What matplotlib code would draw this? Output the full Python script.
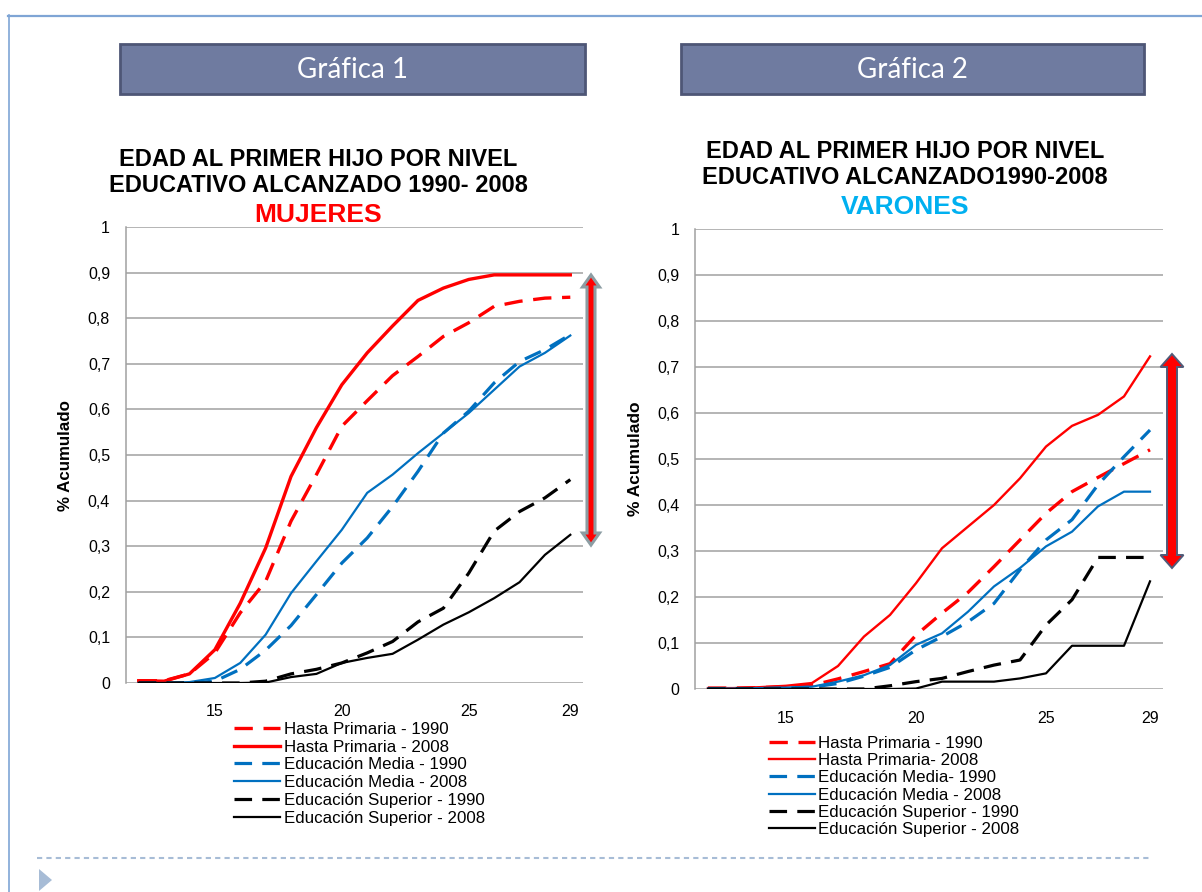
import matplotlib
matplotlib.use("Agg")
import matplotlib.pyplot as plt
import matplotlib.patches as mpatches
import matplotlib.lines as mlines
import numpy as np

W, H = 1202, 892

edades = list(range(12, 30))
xticks = [15, 20, 25, 29]

# Gráfica 1 - Mujeres
prim_1990_m = [0.005, 0.005, 0.02, 0.066, 0.154, 0.223, 0.355, 0.457, 0.563, 0.619, 0.674, 0.716, 0.76, 0.79, 0.826, 0.837, 0.844, 0.846]
prim_2008_m = [0.005, 0.004, 0.02, 0.073, 0.175, 0.296, 0.453, 0.56, 0.654, 0.724, 0.783, 0.839, 0.866, 0.885, 0.895, 0.895, 0.895, 0.895]
media_1990_m = [0, 0, 0, 0.004, 0.03, 0.072, 0.126, 0.194, 0.263, 0.318, 0.387, 0.464, 0.548, 0.596, 0.658, 0.705, 0.731, 0.764]
media_2008_m = [0, 0, 0.002, 0.011, 0.044, 0.106, 0.197, 0.267, 0.336, 0.417, 0.457, 0.504, 0.548, 0.592, 0.643, 0.694, 0.724, 0.762]
sup_1990_m = [0, 0, 0, 0, 0, 0.004, 0.02, 0.03, 0.044, 0.066, 0.091, 0.134, 0.164, 0.241, 0.333, 0.376, 0.406, 0.446]
sup_2008_m = [0, 0, 0, 0, 0, 0.001, 0.013, 0.02, 0.044, 0.055, 0.064, 0.095, 0.128, 0.155, 0.186, 0.221, 0.281, 0.325]

# Gráfica 2 - Varones
prim_1990_v = [0.002, 0.002, 0.003, 0.005, 0.008, 0.022, 0.038, 0.055, 0.117, 0.165, 0.21, 0.266, 0.324, 0.382, 0.429, 0.46, 0.49, 0.52]
prim_2008_v = [0.002, 0.002, 0.004, 0.007, 0.013, 0.05, 0.114, 0.161, 0.23, 0.306, 0.353, 0.40, 0.458, 0.527, 0.572, 0.596, 0.636, 0.723]
media_1990_v = [0.001, 0.001, 0.001, 0.002, 0.004, 0.012, 0.028, 0.047, 0.085, 0.114, 0.146, 0.186, 0.259, 0.324, 0.368, 0.444, 0.505, 0.563]
media_2008_v = [0.001, 0.001, 0.002, 0.003, 0.005, 0.016, 0.03, 0.052, 0.096, 0.121, 0.168, 0.223, 0.263, 0.31, 0.342, 0.397, 0.429, 0.429]
sup_1990_v = [0, 0, 0, 0, 0, 0, 0, 0.007, 0.016, 0.023, 0.038, 0.052, 0.063, 0.139, 0.194, 0.286, 0.286, 0.286]
sup_2008_v = [0, 0, 0, 0, 0, 0, 0, 0, 0.001, 0.016, 0.016, 0.016, 0.023, 0.034, 0.094, 0.094, 0.094, 0.234]

labels_m = ["Hasta Primaria - 1990", "Hasta Primaria - 2008", "Educación Media - 1990",
            "Educación Media - 2008", "Educación Superior - 1990", "Educación Superior - 2008"]
labels_v = ["Hasta Primaria - 1990", "Hasta Primaria- 2008", "Educación Media- 1990",
            "Educación Media - 2008", "Educación Superior - 1990", "Educación Superior - 2008"]

RED = "#FF0000"
BLUE = "#0070C0"
GRID = "#A0A0A0"

plt.rcParams["font.family"] = ["Liberation Sans", "DejaVu Sans"]


def fx(px):
    return px / W


def fy(py):
    return 1 - py / H


def ytick_fmt(v, pos):
    if abs(v) < 1e-9:
        return "0"
    if abs(v - 1) < 1e-9:
        return "1"
    return f"{v:.1f}".replace(".", ",")


def setup_axes(ax, xpad, ypad):
    ax.set_xlim(11.5, 29.5)
    ax.set_ylim(0, 1)
    ax.set_yticks(np.arange(0, 1.01, 0.1))
    ax.yaxis.set_major_formatter(plt.FuncFormatter(ytick_fmt))
    ax.set_xticks(xticks)
    ax.set_xticklabels([str(t) for t in xticks])
    ax.tick_params(axis="y", length=0, pad=ypad, labelsize=11.5)
    ax.tick_params(axis="x", length=0, pad=xpad, labelsize=11.5)
    ax.grid(axis="y", color=GRID, linewidth=1.1)
    ax.set_axisbelow(True)
    for s in ["top", "right", "bottom"]:
        ax.spines[s].set_visible(False)
    ax.spines["left"].set_color(GRID)
    ax.spines["left"].set_linewidth(1.1)


def draw_series(ax, series, widths):
    styles = [(RED, True), (RED, False), (BLUE, True), (BLUE, False), ("black", True), ("black", False)]
    handles = []
    for vals, (col, dashed), lw in zip(series, styles, widths):
        if dashed:
            ln, = ax.plot(edades, vals, color=col, lw=lw, dashes=(5.5, 3.2), solid_capstyle="butt")
        else:
            ln, = ax.plot(edades, vals, color=col, lw=lw, solid_joinstyle="round")
        handles.append(ln)
    return handles


def double_arrow(cx, top, bot, hw, sw, hl, face, edge, lw):
    pts = [(cx, top), (cx + hw, top + hl), (cx + sw, top + hl), (cx + sw, bot - hl),
           (cx + hw, bot - hl), (cx, bot), (cx - hw, bot - hl), (cx - sw, bot - hl),
           (cx - sw, top + hl), (cx - hw, top + hl)]
    poly = mpatches.Polygon([(fx(a), fy(b)) for a, b in pts], closed=True,
                            transform=fig.transFigure, facecolor=face, edgecolor=edge,
                            linewidth=lw, joinstyle="miter")
    fig.patches.append(poly)


fig = plt.figure(figsize=(W / 100, H / 100), dpi=100)

# outer frame
fig.add_artist(mlines.Line2D([fx(8), fx(1202)], [fy(15.5), fy(15.5)], transform=fig.transFigure,
                             color="#7FA5D5", lw=1.6))
fig.add_artist(mlines.Line2D([fx(8.5), fx(8.5)], [fy(15), fy(892)], transform=fig.transFigure,
                             color="#7FA5D5", lw=1.2))

# header boxes
for x0, x1, txt in [(120, 585, "Gráfica 1"), (681, 1144, "Gráfica 2")]:
    box = mpatches.Rectangle((fx(x0), fy(94)), fx(x1) - fx(x0), fy(44) - fy(94),
                             transform=fig.transFigure, facecolor="#6F7BA0",
                             edgecolor="#4E5676", linewidth=2)
    fig.patches.append(box)
    fig.text(fx((x0 + x1) / 2), fy(70), txt, ha="center", va="center", color="white",
             fontsize=20, family=["Lato", "DejaVu Sans"])

# titles
fig.text(fx(318), fy(160), "EDAD AL PRIMER HIJO POR NIVEL", ha="center", va="center",
         fontsize=17, fontweight="bold")
fig.text(fx(318), fy(186), "EDUCATIVO ALCANZADO 1990- 2008", ha="center", va="center",
         fontsize=17, fontweight="bold")
fig.text(fx(318), fy(215), "MUJERES", ha="center", va="center", fontsize=19,
         fontweight="bold", color=RED)

fig.text(fx(905), fy(152), "EDAD AL PRIMER HIJO POR NIVEL", ha="center", va="center",
         fontsize=17, fontweight="bold")
fig.text(fx(905), fy(178), "EDUCATIVO ALCANZADO1990-2008", ha="center", va="center",
         fontsize=17, fontweight="bold")
fig.text(fx(905), fy(207), "VARONES", ha="center", va="center", fontsize=19,
         fontweight="bold", color="#00B0F0")

# left chart
ax1 = fig.add_axes([fx(126), fy(683), fx(583) - fx(126), fy(227) - fy(683)])
setup_axes(ax1, xpad=15, ypad=11.5)
h1 = draw_series(ax1, [prim_1990_m, prim_2008_m, media_1990_m, media_2008_m, sup_1990_m, sup_2008_m],
                 [2.4, 2.4, 2.3, 1.6, 2.3, 1.6])
fig.text(fx(66), fy(456), "% Acumulado", rotation=90, ha="center", va="center",
         fontsize=12.2, fontweight="bold")
ax1.legend(h1, labels_m, loc="upper left", bbox_to_anchor=(fx(234), fy(722)),
           bbox_transform=fig.transFigure, frameon=False, fontsize=12.2,
           handlelength=2.7, handletextpad=0.25, labelspacing=0.16,
           borderpad=0, borderaxespad=0)

# right chart
ax2 = fig.add_axes([fx(695), fy(689), fx(1163) - fx(695), fy(229) - fy(689)])
setup_axes(ax2, xpad=16, ypad=11)
h2 = draw_series(ax2, [prim_1990_v, prim_2008_v, media_1990_v, media_2008_v, sup_1990_v, sup_2008_v],
                 [2.4, 1.7, 2.3, 1.6, 2.3, 1.6])
fig.text(fx(636), fy(459), "% Acumulado", rotation=90, ha="center", va="center",
         fontsize=12.5, fontweight="bold")
ax2.legend(h2, labels_v, loc="upper left", bbox_to_anchor=(fx(769), fy(736)),
           bbox_transform=fig.transFigure, frameon=False, fontsize=12.2,
           handlelength=2.7, handletextpad=0.2, labelspacing=0.13,
           borderpad=0, borderaxespad=0)

# arrows
double_arrow(591, 275, 545, 8.5, 4.0, 12, RED, "#8C9DA3", 2.2)
double_arrow(1172, 354, 568, 11.5, 5.0, 13, RED, "#505A78", 1.4)

# bottom decoration
fig.add_artist(mlines.Line2D([fx(37), fx(1150)], [fy(858), fy(858)], transform=fig.transFigure,
                             color="#A7BCD6", lw=1.5, dashes=(2.5, 2)))
tri = mpatches.Polygon([(fx(39), fy(869)), (fx(39), fy(891)), (fx(52), fy(880))], closed=True,
                       transform=fig.transFigure, facecolor="#A7BCD6", edgecolor="none")
fig.patches.append(tri)

fig.savefig("out.png", dpi=100)
